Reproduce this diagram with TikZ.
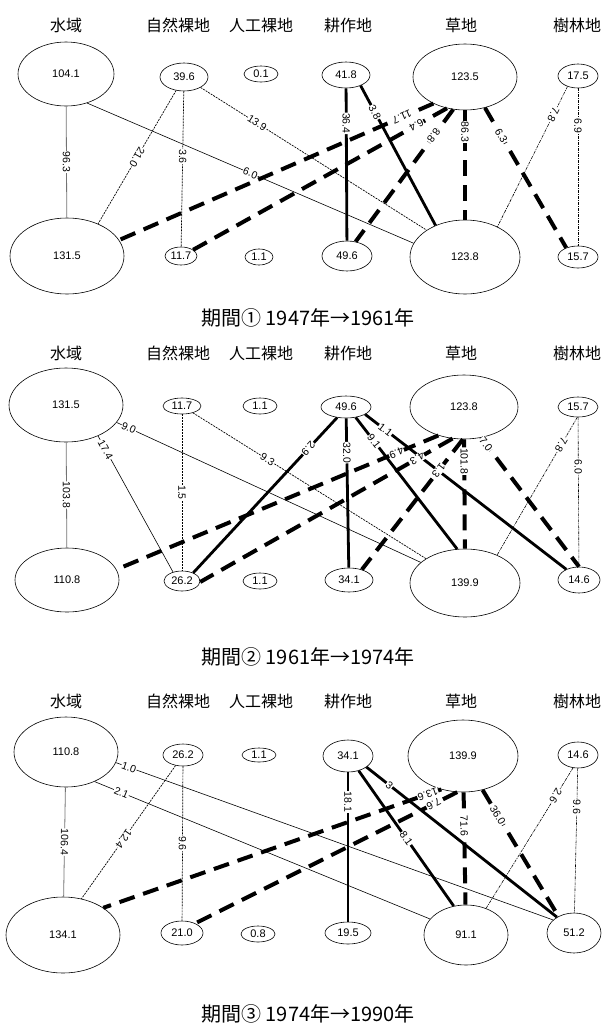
\documentclass[tikz,border=0pt]{standalone}
\usepackage{fontspec}
\setmainfont{Liberation Sans}
\newfontfamily\jpfont{Noto Sans CJK JP}
\usetikzlibrary{shapes.geometric}

\begin{document}
\begin{tikzpicture}[x=1pt, y=-1pt,
    landuse/.style={draw, ellipse, inner sep=0pt, line width=0.6pt, font=\fontsize{11}{12}\selectfont},
    head/.style={font=\jpfont\fontsize{16}{18}\selectfont},
    period/.style={font=\jpfont\fontsize{20}{22}\selectfont},
    val/.style={fill=white, inner sep=0.6pt, sloped, allow upside down, font=\fontsize{10.5}{11}\selectfont},
    waterflow/.style={draw=black!55, line width=0.8pt},
    thinflow/.style={line width=0.6pt},
    dotflow/.style={line width=0.7pt, dash pattern=on 2pt off 1pt},
    forestflow/.style={line width=0.6pt, dash pattern=on 3pt off 1pt on 1pt off 1pt},
    boldflow/.style={line width=2.8pt},
    dashflow/.style={line width=4pt, dash pattern=on 16pt off 9pt},
  ]
  \useasboundingbox (0,0) rectangle (607,1026);

  % column heads
  \foreach \p/\y in {1/25, 2/353, 3/701} {
    \node[head] (hw\p) at (66,\y) {水域};
    \node[head] (hn\p) at (178,\y) {自然裸地};
    \node[head] (hk\p) at (261,\y) {人工裸地};
    \node[head] (hc\p) at (348,\y) {耕作地};
    \node[head] (hg\p) at (461,\y) {草地};
    \node[head] (hf\p) at (577,\y) {樹林地};
  }

  % period 1
  \node[landuse, minimum width=96pt, minimum height=64pt] (a1t) at (66,74) {104.1};
  \node[landuse, minimum width=48pt, minimum height=28pt] (n1t) at (184,77) {39.6};
  \node[landuse, minimum width=34pt, minimum height=16pt] (k1t) at (261,74) {0.1};
  \node[landuse, minimum width=48pt, minimum height=26pt] (c1t) at (346,75) {41.8};
  \node[landuse, minimum width=104pt, minimum height=66pt] (g1t) at (465,77) {123.5};
  \node[landuse, minimum width=40pt, minimum height=24pt] (f1t) at (578,76) {17.5};
  \node[landuse, minimum width=114pt, minimum height=76pt] (a1b) at (67,256) {131.5};
  \node[landuse, minimum width=32pt, minimum height=18pt] (n1b) at (181,256) {11.7};
  \node[landuse, minimum width=28pt, minimum height=16pt] (k1b) at (259,257) {1.1};
  \node[landuse, minimum width=50pt, minimum height=30pt] (c1b) at (347,256) {49.6};
  \node[landuse, minimum width=110pt, minimum height=74pt] (g1b) at (465,257) {123.8};
  \node[landuse, minimum width=40pt, minimum height=22pt] (f1b) at (578,257) {15.7};

  \draw[waterflow] (a1t) -- node[val] {96.3} (a1b);
  \draw[thinflow] (a1t.-54) -- node[val] {6.0} (g1b.165);
  \draw[dotflow] (n1t) -- node[val] {21.0} (a1b.46);
  \draw[dotflow] (n1t) -- node[val, pos=0.42] {3.6} (n1b);
  \draw[dotflow] (n1t) -- node[val, pos=0.25] {13.9} (g1b.145);
  \draw[boldflow] (c1t) -- node[val, pos=0.23] {36.4} (c1b);
  \draw[boldflow] (c1t.-36) -- node[val, pos=0.19] {3.8} (g1b.133);
  \draw[dashflow] (g1t.-140) -- node[val, pos=0.1] {11.7} (a1b.17);
  \draw[dashflow] (g1t.-120) -- node[val, pos=0.12] {6.4} (n1b.27);
  \draw[dashflow] (g1t.-110) -- node[val, pos=0.2] {8.8} (c1b.59);
  \draw[dashflow] (g1t) -- node[val, pos=0.2] {86.3} (g1b);
  \draw[dashflow] (g1t.-57) -- node[val, pos=0.2] {6.3} (f1b.142);
  \draw[forestflow] (f1t.-135) -- node[val, pos=0.2] {7.8} (g1b.43);
  \draw[forestflow] (f1t) -- node[val, pos=0.24] {6.9} (f1b);

  \node[period] (t1) at (308,318) {期間① 1947年→1961年};

  % period 2
  \node[landuse, minimum width=114pt, minimum height=74pt] (a2t) at (66,405) {131.5};
  \node[landuse, minimum width=38pt, minimum height=16pt] (n2t) at (182,406) {11.7};
  \node[landuse, minimum width=34pt, minimum height=16pt] (k2t) at (260,406) {1.1};
  \node[landuse, minimum width=50pt, minimum height=22pt] (c2t) at (346,407) {49.6};
  \node[landuse, minimum width=108pt, minimum height=64pt] (g2t) at (464,407) {123.8};
  \node[landuse, minimum width=40pt, minimum height=20pt] (f2t) at (578,407) {15.7};
  \node[landuse, minimum width=104pt, minimum height=64pt] (a2b) at (67,580) {110.8};
  \node[landuse, minimum width=36pt, minimum height=20pt] (n2b) at (182,581) {26.2};
  \node[landuse, minimum width=34pt, minimum height=16pt] (k2b) at (260,581) {1.1};
  \node[landuse, minimum width=48pt, minimum height=24pt] (c2b) at (349,580) {34.1};
  \node[landuse, minimum width=110pt, minimum height=68pt] (g2b) at (465,583) {139.9};
  \node[landuse, minimum width=42pt, minimum height=26pt] (f2b) at (579,580) {14.6};

  \draw[waterflow] (a2t) -- node[val] {103.8} (a2b);
  \draw[thinflow] (a2t.-19) -- node[val, pos=0.04] {9.0} (g2b.155);
  \draw[thinflow] (a2t.-44) -- node[val, pos=0.1] {17.4} (n2b.135);
  \draw[dotflow] (n2t) -- node[val] {1.5} (n2b);
  \draw[dotflow] (n2t) -- node[val, pos=0.32] {9.3} (g2b.148);
  \draw[boldflow] (c2t.-130) -- node[val, pos=0.2] {2.9} (n2b.36);
  \draw[boldflow] (c2t) -- node[val, pos=0.23] {32.0} (c2b);
  \draw[boldflow] (c2t.-47) -- node[val, pos=0.18] {9.1} (g2b.103);
  \draw[boldflow] (c2t.-21) -- node[val, pos=0.1] {1.1} (f2b.140);
  \draw[dashflow] (g2t.-132) -- node[val, pos=0.13] {4.9} (a2b.12);
  \draw[dashflow] (g2t.-110) -- node[val, pos=0.14] {4.3} (n2b.-3);
  \draw[dashflow] (g2t.-92) -- node[val, pos=0.24] {1.3} (c2b.39);
  \draw[dashflow] (g2t) -- node[val, pos=0.2] {101.8} (g2b);
  \draw[dashflow] (g2t.-61) -- node[val, pos=0.05] {7.0} (f2b.90);
  \draw[forestflow] (f2t.-94) -- node[val, pos=0.2] {7.8} (g2b.41);
  \draw[forestflow] (f2t) -- node[val, pos=0.33] {6.0} (f2b);

  \node[period] (t2) at (308,657) {期間② 1961年→1974年};

  % period 3
  \node[landuse, minimum width=104pt, minimum height=70pt] (a3t) at (66,752) {110.8};
  \node[landuse, minimum width=40pt, minimum height=22pt] (n3t) at (183,755) {26.2};
  \node[landuse, minimum width=34pt, minimum height=14pt] (k3t) at (259,755) {1.1};
  \node[landuse, minimum width=50pt, minimum height=32pt] (c3t) at (348,756) {34.1};
  \node[landuse, minimum width=110pt, minimum height=72pt] (g3t) at (463,756) {139.9};
  \node[landuse, minimum width=40pt, minimum height=26pt] (f3t) at (578,755) {14.6};
  \node[landuse, minimum width=114pt, minimum height=76pt] (a3b) at (63,935) {134.1};
  \node[landuse, minimum width=42pt, minimum height=24pt] (n3b) at (182,933) {21.0};
  \node[landuse, minimum width=34pt, minimum height=16pt] (k3b) at (258,934) {0.8};
  \node[landuse, minimum width=46pt, minimum height=22pt] (c3b) at (348,933) {19.5};
  \node[landuse, minimum width=84pt, minimum height=60pt] (g3b) at (466,935) {91.1};
  \node[landuse, minimum width=54pt, minimum height=40pt] (f3b) at (574,933) {51.2};

  \draw[waterflow] (a3t) -- node[val] {106.4} (a3b);
  \draw[thinflow] (a3t.-12) -- node[val, pos=0.03] {1.0} (f3b.148);
  \draw[thinflow] (a3t.-46) -- node[val, pos=0.08] {2.1} (g3b.156);
  \draw[dotflow] (n3t) -- node[val, pos=0.55] {12.4} (a3b.63);
  \draw[dotflow] (n3t) -- node[val] {9.6} (n3b);
  \draw[boldflow] (c3t) -- node[val, pos=0.2] {18.1} (c3b);
  \draw[boldflow] (c3t.-54) -- node[val] {8.1} (g3b.113);
  \draw[boldflow] (c3t.-31) -- node[val, pos=0.12] {3} (f3b.137);
  \draw[dashflow] (g3t.-123) -- node[val, pos=0.04] {13.6} (a3b.34);
  \draw[dashflow] (g3t.-99) -- node[val, pos=0.09] {7.6} (n3b.36);
  \draw[dashflow] (g3t) -- node[val, pos=0.3] {71.6} (g3b);
  \draw[dashflow] (g3t.-60) -- node[val, pos=0.2] {36.0} (f3b.133);
  \draw[forestflow] (f3t.-111) -- node[val, pos=0.2] {2.6} (g3b.53);
  \draw[forestflow] (f3t) -- node[val, pos=0.27] {9.6} (f3b);

  \node[period] (t3) at (308,1014) {期間③ 1974年→1990年};
\end{tikzpicture}
\end{document}
